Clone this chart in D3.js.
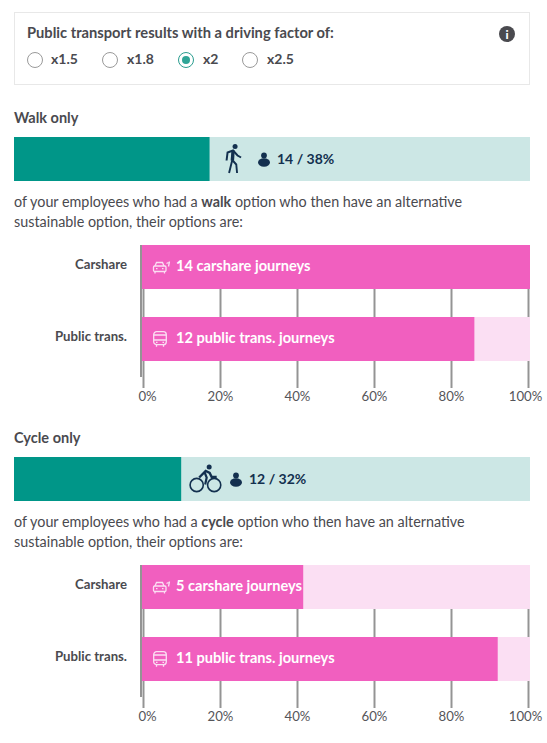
<!DOCTYPE html>
<html><head><meta charset="utf-8">
<script src="https://cdn.jsdelivr.net/npm/d3@7/dist/d3.min.js"></script>
<style>html,body{margin:0;padding:0;background:#fff}svg{display:block;font-family:Lato,"Noto Sans",sans-serif}</style>
</head><body><div id="c"></div>
<script>
const factorOptions=["x1.5","x1.8","x2","x2.5"];
const selectedFactor="x2";
const sections=["Walk only","Cycle only"];
const modeWords=["walk","cycle"];
const modeCounts=[14,12];
const modePercents=[38,32];
const modeShares=[37.9,32.4];
const categories=["Carshare","Public trans."];
const optionLabels=[["14 carshare journeys","12 public trans. journeys"],["5 carshare journeys","11 public trans. journeys"]];
const optionShares=[[100,85.7],[41.7,91.7]];
const ticks=[0,20,40,60,80,100];

const svg=d3.select("#c").append("svg").attr("width",547).attr("height",743);
const dark="#4a4a4f",navy="#13304f",teal="#009688",lteal="#cce7e5",pink="#f15fbf",lpink="#fbdff3",grey="#949494";

function txt(s,x,y,size,weight,fill,anchor){
  return svg.append("text").attr("x",x).attr("y",y).attr("font-size",size).attr("font-weight",weight).attr("fill",fill).attr("text-anchor",anchor||"start").text(s);
}
svg.append("rect").attr("x",14.5).attr("y",12.5).attr("width",515).attr("height",72).attr("fill","#fff").attr("stroke","#e8e8e8");
txt("Public transport results with a driving factor of:",27,38,14.7,700,dark);
svg.append("circle").attr("cx",507).attr("cy",34).attr("r",8).attr("fill",dark);
txt("i",507,38.5,12,900,"#fff","middle");
const radioX=[35,110,186,250],radioLabelX=[51,127,203,267];
factorOptions.forEach((o,i)=>{
  const on=o===selectedFactor;
  svg.append("circle").attr("cx",radioX[i]).attr("cy",60).attr("r",7.5).attr("fill","#fff").attr("stroke",on?"#2a9d8f":"#9a9a9a");
  if(on)svg.append("circle").attr("cx",radioX[i]).attr("cy",60).attr("r",4).attr("fill","#2fa597");
  txt(o,radioLabelX[i],64,14,700,dark);
});

const offsets=[0,320];
const xAxis=d3.scaleLinear().domain([0,100]).range([143,528]);
const xBar=d3.scaleLinear().domain([0,100]).range([141,530]);
const xMode=d3.scaleLinear().domain([0,100]).range([14,530]);
const yBand=d3.scaleBand().domain(categories).range([245,361]).paddingInner(28/72).paddingOuter(0);

function icon(g,type,x,y){
  const c=g.append("g").attr("transform",`translate(${x},${y})`).attr("fill","none").attr("stroke","#fbdff3").attr("stroke-width",1.3);
  if(type===0){
    c.append("rect").attr("x",0.5).attr("y",6).attr("width",12.5).attr("height",5.5).attr("rx",1.2);
    c.append("path").attr("d","M2 6l1.5-3.5h6L11 6M2 11.5v2M11.5 11.5v2M3 8.7h1.5M9 8.7h1.5M13.5 3.5l2-1M15.5 6.5l1-5");
  }else{
    c.append("rect").attr("x",0.7).attr("y",0.7).attr("width",12.6).attr("height",13).attr("rx",3);
    c.append("path").attr("d","M0.7 4h12.6M0.7 9h12.6M3.5 13.7v2M10.5 13.7v2M3 11.3h1.5M9.5 11.3h1.5");
  }
}

sections.forEach((s,k)=>{
  const off=offsets[k];
  const g=svg.append("g").attr("transform",`translate(0,${off})`);
  g.append("text").attr("x",14).attr("y",123).attr("font-size",14.5).attr("font-weight",700).attr("fill",dark).text(s);
  g.append("rect").attr("x",xMode(0)).attr("y",137).attr("width",xMode(100)-xMode(0)).attr("height",44).attr("fill",lteal);
  g.append("rect").attr("x",xMode(0)).attr("y",137).attr("width",xMode(modeShares[k])-xMode(0)).attr("height",44).attr("fill",teal);
  const ix=xMode(modeShares[k]);
  const b=g.append("g").attr("transform",`translate(${ix},137)`).attr("fill","none").attr("stroke",navy);
  if(k===0){
    b.append("circle").attr("cx",25.5).attr("cy",9.5).attr("r",2.5).attr("fill",navy).attr("stroke","none");
    b.append("path").attr("d","M17 23.5l1-8 5.5-2 4.5 5 3.5 2").attr("stroke-width",2);
    b.append("path").attr("d","M23.5 13.5l-.7 10").attr("stroke-width",3.4);
    b.append("path").attr("d","M22.7 23l-3.2 13M22.7 23l4 4.5.8 8.5").attr("stroke-width",1.9);
  }else{
    b.append("circle").attr("cx",15.5).attr("cy",28).attr("r",6.6).attr("stroke-width",1.6);
    b.append("circle").attr("cx",33).attr("cy",28).attr("r",6.6).attr("stroke-width",1.6);
    b.append("circle").attr("cx",28).attr("cy",10).attr("r",2.5).attr("fill",navy).attr("stroke","none");
    b.append("path").attr("d","M18 20.5l6.5-6.5 4 2 2 4h5").attr("stroke-width",2.4);
    b.append("path").attr("d","M23.5 15.5l2 5 -1.5 7").attr("stroke-width",2.2);
  }
  const px=k===0?264:236;
  g.append("circle").attr("cx",px).attr("cy",155.5).attr("r",2.9).attr("fill",navy);
  g.append("ellipse").attr("cx",px).attr("cy",162.5).attr("rx",6).attr("ry",4.2).attr("fill",navy);
  g.append("text").attr("x",px+13).attr("y",164).attr("font-size",14).attr("font-weight",700).attr("fill",navy).text(`${modeCounts[k]} / ${modePercents[k]}%`);
  const t=g.append("text").attr("x",14).attr("y",207).attr("font-size",14.35).attr("fill",dark);
  t.append("tspan").text("of your employees who had a ");
  t.append("tspan").attr("font-weight",700).text(modeWords[k]);
  t.append("tspan").text(" option who then have an alternative");
  g.append("text").attr("x",14).attr("y",227).attr("font-size",14.35).attr("fill",dark).text("sustainable option, their options are:");

  const axis=g.append("g").attr("transform","translate(0,388)").call(d3.axisBottom(xAxis).tickValues(ticks).tickFormat(d=>d+"%").tickSize(-143).tickPadding(4));
  axis.select(".domain").remove();
  axis.selectAll(".tick line").attr("stroke",grey).attr("stroke-width",2);
  axis.selectAll(".tick text").attr("font-family","Lato,sans-serif").attr("font-size",13.2).attr("fill","#55555a")
    .attr("dx",d=>d===0?4:d===100?-3:0);

  categories.forEach((c,j)=>{
    const y=yBand(c),h=yBand.bandwidth();
    g.append("rect").attr("x",xBar(0)).attr("y",y).attr("width",xBar(100)-xBar(0)).attr("height",h).attr("fill",lpink);
    g.append("rect").attr("x",xBar(0)+1).attr("y",y).attr("width",xBar(optionShares[k][j])-xBar(0)-1).attr("height",h).attr("fill",pink);
    g.append("text").attr("x",127).attr("y",y+24).attr("text-anchor","end").attr("font-size",13.2).attr("font-weight",700).attr("fill",dark).text(c);
    icon(g,j,153,y+(j===0?15:14));
    g.append("text").attr("x",176).attr("y",y+26).attr("font-size",14.6).attr("font-weight",700).attr("fill","#fff").text(optionLabels[k][j]);
  });
  g.append("rect").attr("x",140).attr("y",245).attr("width",2).attr("height",132).attr("fill",grey);
});
</script></body></html>
